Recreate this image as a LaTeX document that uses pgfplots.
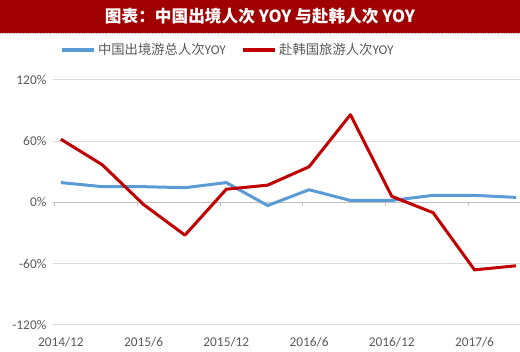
\documentclass[border=0pt]{standalone}
\usepackage{pgfplots}
\pgfplotsset{compat=1.18}
\usepackage{fontspec}
\setmainfont{Carlito}
\newfontfamily\cjk{Noto Sans CJK SC}
\definecolor{banner}{HTML}{A00000}
\definecolor{bl}{HTML}{5B9BD5}
\definecolor{rd}{HTML}{C00000}
\definecolor{txt}{HTML}{595959}
\definecolor{grd}{HTML}{D9D9D9}
\begin{document}
\begin{tikzpicture}
\path[use as bounding box] (0pt,0pt) rectangle (390pt,264pt);
\fill[banner] (0pt,264pt) rectangle (390pt,239.25pt);
\draw[densely dotted, color=violet!40, line width=0.75pt] (0pt,238.5pt) -- (390pt,238.5pt);
\node[text=white, font=\cjk\bfseries\fontsize{12.5pt}{14pt}\selectfont] at (195pt,252pt) {图表：中国出境人次 YOY 与赴韩人次 YOY};
\begin{axis}[
  at={(39.75pt,20.25pt)}, anchor=south west,
  scale only axis, width=350.25pt, height=183.75pt,
  xmin=-0.19, xmax=11.1, ymin=-120, ymax=120,
  axis line style={draw=none},
  ytick={-120,-60,0,60,120},
  yticklabel={\pgfmathprintnumber{\tick}\%},
  yticklabel style={text=txt, font=\fontsize{10pt}{12pt}\selectfont},
  /pgf/number format/assume math mode=true,
  ymajorgrids, grid style={grd, line width=0.75pt},
  major tick length=0pt,
  xtick={0,2,4,6,8,10},
  xticklabels={2014/12,2015/6,2015/12,2016/6,2016/12,2017/6},
  xticklabel style={text=txt, font=\fontsize{10pt}{12pt}\selectfont},
  xticklabel shift=6pt,
  yticklabel shift=1.5pt,
  legend columns=2,
  legend style={draw=none, fill=none, at={(axis description cs:0,1)}, anchor=west, xshift=5pt, yshift=22.5pt,
    font=\fontsize{10pt}{12pt}\selectfont, text=txt, inner sep=0pt,
    /tikz/every even column/.append style={column sep=9.5pt},
    nodes={inner sep=2pt}},
  legend image code/.code={\draw[#1, line width=2.6pt] (0pt,0pt) -- (24pt,0pt);},
  clip=false,
]
\draw[gray!50, line width=0.75pt] (axis cs:-0.19,0) -- (axis cs:11.1,0);
\draw[gray!50, line width=0.75pt] (axis cs:-0.15,0) -- ++(0pt,-3pt);
\draw[gray!50, line width=0.75pt] (axis cs:1.85,0) -- ++(0pt,-3pt);
\draw[gray!50, line width=0.75pt] (axis cs:3.85,0) -- ++(0pt,-3pt);
\draw[gray!50, line width=0.75pt] (axis cs:5.85,0) -- ++(0pt,-3pt);
\draw[gray!50, line width=0.75pt] (axis cs:7.85,0) -- ++(0pt,-3pt);
\draw[gray!50, line width=0.75pt] (axis cs:9.85,0) -- ++(0pt,-3pt);
\addplot[bl, line width=2.25pt, line join=round] coordinates {
(0,19.5) (1,15.5) (2,15.5) (3,14.5) (4,19.5) (5,-3) (6,12.5) (7,2) (8,2) (9,7) (10,7) (11,5)};
\addlegendentry{{\cjk 中国出境游总人次}YOY}
\addplot[rd, line width=2.25pt, line join=round] coordinates {
(0,62) (1,37) (2,-2) (3,-32) (4,13) (5,17) (6,35) (7,86) (8,6) (9,-10) (10,-66) (11,-62)};
\addlegendentry{{\cjk 赴韩国旅游人次}YOY}
\end{axis}
\end{tikzpicture}
\end{document}
